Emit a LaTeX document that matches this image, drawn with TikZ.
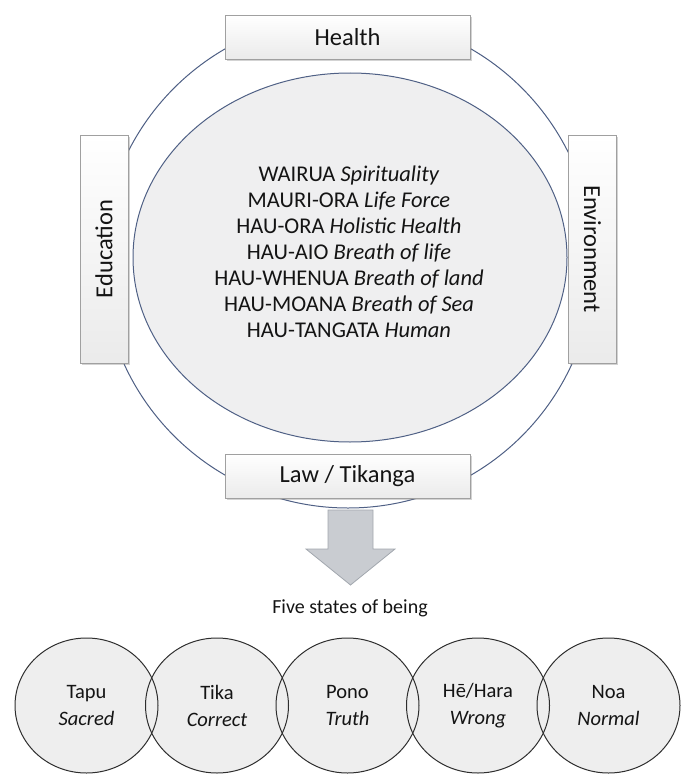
\documentclass[tikz,border=0pt]{standalone}
\usepackage{fontspec}
\setmainfont{Carlito}
\usetikzlibrary{shapes.geometric,shadows,backgrounds}
\definecolor{ringline}{HTML}{4F6085}
\definecolor{innerfill}{HTML}{EFEFF0}
\definecolor{tabline}{HTML}{A0A0A0}
\definecolor{statefill}{HTML}{EEEEEE}
\definecolor{stateline}{HTML}{2E2E2E}
\definecolor{arrowfill}{HTML}{C9CCD1}
\definecolor{arrowline}{HTML}{A2A7AE}
\definecolor{txt}{HTML}{141414}
\begin{document}
\begin{tikzpicture}[x=1pt,y=-1pt,
  tab/.style={draw=tabline, line width=0.9pt, top color=white, bottom color=gray!16,
    minimum height=44pt, inner sep=0pt, text=txt,
    font=\fontsize{24.5}{28}\selectfont,
    drop shadow={shadow xshift=1.5pt, shadow yshift=-2pt, opacity=0.35}},
  statenode/.style={draw=stateline, line width=1pt, ellipse, minimum width=143pt,
    minimum height=135pt, inner sep=0pt, align=center, text=txt,
    font=\fontsize{20.5}{27}\selectfont},
]
\useasboundingbox (0,0) rectangle (683,776);

% outer ring and inner ellipse
\node[draw=ringline, line width=1pt, circle, minimum size=492pt, inner sep=0pt] (outer) at (348,262) {};
\node[draw=ringline, line width=1pt, fill=innerfill, ellipse, minimum width=434pt, minimum height=369pt, inner sep=0pt] (inner) at (350,257.5) {};
\node[align=center, text=txt, font=\fontsize{22.5}{26}\selectfont] (core) at (349,252)
  {WAIRUA \textit{Spirituality}\\
   MAURI-ORA \textit{Life Force}\\
   HAU-ORA \textit{Holistic Health}\\
   HAU-AIO \textit{Breath of life}\\
   HAU-WHENUA \textit{Breath of land}\\
   HAU-MOANA \textit{Breath of Sea}\\
   HAU-TANGATA \textit{Human}};

% tabs
\node[tab, minimum width=245pt] (health) at (347.5,37) {Health};
\node[tab, minimum width=245pt] (law) at (347.5,476) {Law / Tikanga};
\node[tab, minimum width=228pt, minimum height=48pt, rotate=90] (edu) at (104,249) {Education};
\node[tab, minimum width=228pt, minimum height=48pt, rotate=-90] (env) at (592.5,249) {Environment};

% block arrow
\draw[draw=arrowline, fill=arrowfill, line width=0.8pt]
  (328,510) -- (373,510) -- (373,549) -- (395,549) -- (350.5,585) -- (306,549) -- (328,549) -- cycle;

\node[text=txt, font=\fontsize{20}{24}\selectfont] (five) at (350,608) {Five states of being};

% five states
\node[statenode] (tapu) at (86.5,705.5) {Tapu\\\textit{Sacred}};
\node[statenode] (tika) at (217,705.5) {Tika\\\textit{Correct}};
\node[statenode] (pono) at (347.5,705.5) {Pono\\\textit{Truth}};
\node[statenode] (hara) at (478,705.5) {Hē/Hara\\\textit{Wrong}};
\node[statenode] (noa) at (608.5,705.5) {Noa\\\textit{Normal}};
\begin{scope}[on background layer]
  \foreach \n in {tapu,tika,pono,hara,noa}
    \fill[statefill] (\n.center) ellipse [x radius=71.5pt, y radius=67.5pt];
\end{scope}
\end{tikzpicture}
\end{document}
